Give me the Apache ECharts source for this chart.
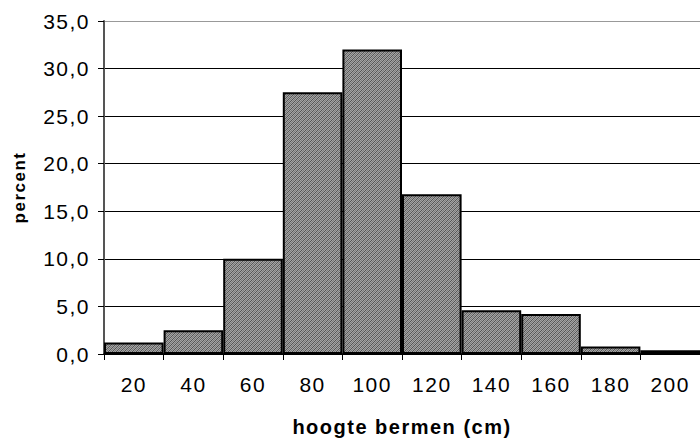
<!DOCTYPE html>
<html>
<head>
<meta charset="utf-8">
<script src="https://cdn.jsdelivr.net/npm/echarts@6/dist/echarts.min.js"></script>
<style>
  html, body { margin: 0; padding: 0; background: #fff; }
  #chart { width: 700px; height: 442px; }
  /* wide tracking of the labels */
  #chart svg text { letter-spacing: 1.5px; }
</style>
</head>
<body>
<div id="chart"></div>
<script>
// Height classes of road verges (cm) and share of measurements (%)
const categories = ['20', '40', '60', '80', '100', '120', '140', '160', '180', '200'];
const percent = [1.2, 2.5, 10.0, 27.5, 32.0, 16.8, 4.6, 4.2, 0.8, 0.4];
const yTicks = { min: 0, max: 35, interval: 5 };

// Fine diagonal hatch used as bar fill
function hatch() {
  const c = document.createElement('canvas');
  c.width = 4; c.height = 4;
  const g = c.getContext('2d');
  g.fillStyle = '#a4a4a4';
  g.fillRect(0, 0, 4, 4);
  g.fillStyle = '#555555';
  for (let i = 0; i < 4; i++) g.fillRect(i, 3 - i, 1, 1);
  g.fillStyle = '#7a7a7a';
  for (let i = 0; i < 4; i++) g.fillRect((i + 2) % 4, 3 - i, 1, 1);
  return c.toDataURL();
}

const chart = echarts.init(document.getElementById('chart'), null, { renderer: 'svg' });
const font = 'Liberation Sans, Arial, sans-serif';

chart.setOption({
  animation: false,
  grid: { left: 104, right: -7, top: 21, bottom: 87, show: false },
  xAxis: {
    type: 'category',
    data: categories,
    name: 'hoogte bermen (cm)',
    nameLocation: 'middle',
    nameGap: 63,
    nameMoveOverlap: false,
    nameTextStyle: { fontFamily: font, fontSize: 20, fontWeight: 'bold', color: '#000' },
    axisLine: { lineStyle: { color: '#000', width: 1.5 } },
    axisTick: { show: true, length: 6, lineStyle: { color: '#000', width: 1 } },
    axisLabel: { fontFamily: font, fontSize: 21, color: '#000', margin: 20 },
    splitLine: { show: false }
  },
  yAxis: {
    type: 'value',
    min: yTicks.min,
    max: yTicks.max,
    interval: yTicks.interval,
    name: 'percent',
    nameLocation: 'middle',
    nameGap: 76,
    nameMoveOverlap: false,
    nameRotate: 90,
    nameTextStyle: { fontFamily: font, fontSize: 17, fontWeight: 'bold', color: '#000' },
    axisLine: { show: true, lineStyle: { color: '#555', width: 2 } },
    axisTick: { show: true, length: 6, lineStyle: { color: '#000', width: 1 } },
    axisLabel: {
      fontFamily: font, fontSize: 21, color: '#000', margin: 14,
      formatter: v => v.toFixed(1).replace('.', ',')
    },
    splitLine: {
      show: true,
      lineStyle: { color: ['#000', '#000', '#000', '#000', '#000', '#000', '#000', '#999'], width: 1 }
    }
  },
  series: [{
    type: 'bar',
    data: percent,
    barCategoryGap: 0,
    itemStyle: {
      color: { image: hatch(), repeat: 'repeat' },
      borderColor: '#000',
      borderWidth: 2
    }
  }]
});
</script>
</body>
</html>
